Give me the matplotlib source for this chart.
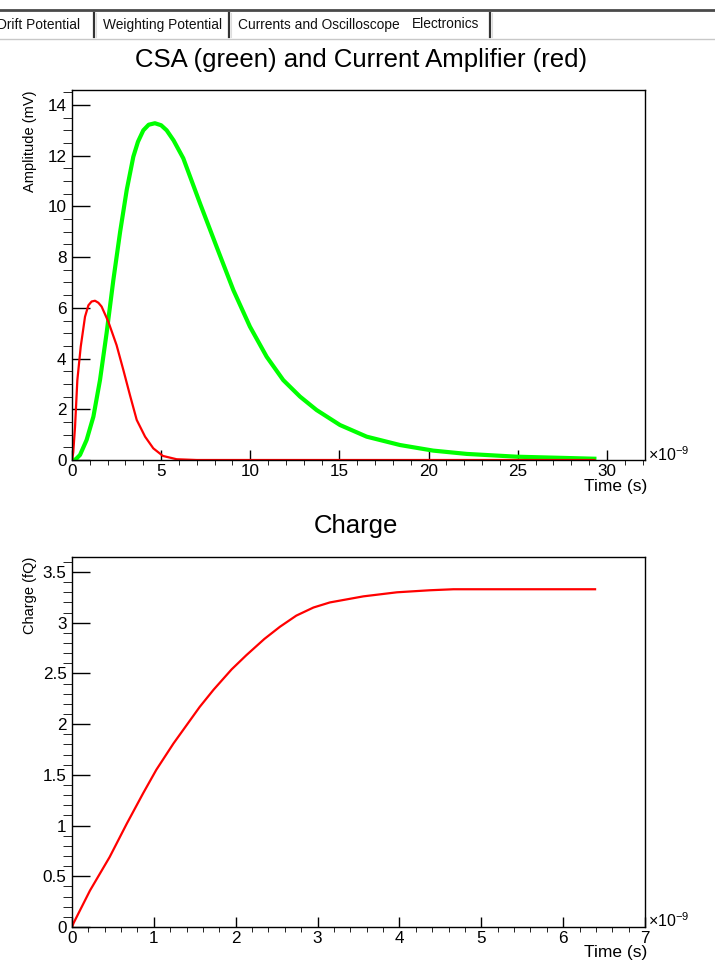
import matplotlib
matplotlib.use("Agg")
import matplotlib.pyplot as plt
from matplotlib.ticker import MultipleLocator, FormatStrFormatter

plt.rcParams['font.family'] = ['Liberation Sans', 'DejaVu Sans']
plt.rcParams['mathtext.fontset'] = 'custom'
plt.rcParams['mathtext.rm'] = 'Liberation Sans'

# CSA output (green), time in ns, amplitude in mV
csa_t = [0.0, 0.2, 0.45, 0.82, 1.2, 1.57, 1.94, 2.32, 2.7, 3.07, 3.44, 3.7, 4.0, 4.3,
         4.65, 5.0, 5.31, 5.7, 6.24, 7.18, 8.11, 9.05, 9.98, 10.92, 11.85, 12.79,
         13.72, 15.03, 16.53, 18.4, 20.26, 22.14, 24.94, 27.7, 29.3]
csa_v = [0.0, 0.02, 0.2, 0.79, 1.71, 3.15, 5.0, 7.1, 9.0, 10.65, 11.96, 12.55, 13.0, 13.22,
         13.28, 13.2, 13.0, 12.6, 11.9, 10.12, 8.41, 6.70, 5.26, 4.07, 3.15, 2.50,
         1.97, 1.38, 0.92, 0.59, 0.37, 0.24, 0.13, 0.08, 0.05]

# current amplifier output (red)
ca_t = [0.0, 0.07, 0.17, 0.3, 0.49, 0.73, 0.92, 1.1, 1.29, 1.48, 1.66, 2.04, 2.5, 2.88,
        3.25, 3.63, 4.1, 4.56, 5.1, 5.87, 7.0, 29.3]
ca_v = [0.0, 0.3, 1.3, 3.15, 4.47, 5.65, 6.1, 6.25, 6.28, 6.2, 6.05, 5.45, 4.53, 3.55,
        2.56, 1.58, 0.92, 0.46, 0.16, 0.03, 0.0, 0.0]

# collected charge, time in ns, charge in fQ
q_t = [0.0, 0.02, 0.22, 0.46, 0.67, 0.87, 1.03, 1.24, 1.56, 1.73, 1.95, 2.13, 2.35, 2.54,
       2.74, 2.95, 3.15, 3.56, 3.97, 4.37, 4.66, 6.39]
q_v = [0.0, 0.04, 0.36, 0.69, 1.02, 1.32, 1.55, 1.81, 2.17, 2.34, 2.54, 2.68, 2.84, 2.96,
       3.07, 3.15, 3.20, 3.26, 3.30, 3.32, 3.33, 3.33]

tab_names = ["Drift Potential", "Weighting Potential", "Currents and Oscilloscope", "Electronics"]

W, H = 715, 964
fig = plt.figure(figsize=(W / 100, H / 100), dpi=100)

# background layer in pixel coords for the tab bar and texts
bg = fig.add_axes([0, 0, 1, 1], zorder=-1)
bg.set_xlim(0, W)
bg.set_ylim(H, 0)
bg.axis('off')

bg.plot([0, W], [10, 10], color='#4a4a4a', lw=2)
bg.plot([0, W], [39, 39], color='#c8c8c8', lw=1)
tab_x = [-3, 103, 238, 412]
for x, name in zip(tab_x, tab_names):
    bg.text(x, 25 if name != "Electronics" else 24, name, fontsize=9.9,
            va='center', ha='left', color='#111111')
for x in [94, 229, 490]:
    bg.plot([x, x], [13, 37], color='#333333', lw=1.6)
    bg.plot([x + 2, x + 2], [13, 37], color='#dddddd', lw=0.8)

bg.text(361, 60, "CSA (green) and Current Amplifier (red)", fontsize=18.5,
        ha='center', va='center')
bg.text(356, 526, "Charge", fontsize=18.5, ha='center', va='center')


def style(ax, xmaj, xmin, ymaj, ymin):
    for s in ['top', 'right', 'left', 'bottom']:
        ax.spines[s].set_linewidth(1.0)
    ax.xaxis.set_major_locator(MultipleLocator(xmaj))
    ax.xaxis.set_minor_locator(MultipleLocator(xmin))
    ax.yaxis.set_major_locator(MultipleLocator(ymaj))
    ax.yaxis.set_minor_locator(MultipleLocator(ymin))
    ax.yaxis.set_major_formatter(FormatStrFormatter('%g'))
    ax.xaxis.set_major_formatter(FormatStrFormatter('%g'))
    ax.tick_params(axis='both', direction='in', labelsize=12.3, width=1)
    ax.tick_params(axis='y', which='major', length=13, pad=4)
    ax.tick_params(axis='y', which='minor', length=6.5)
    ax.tick_params(axis='x', which='major', length=7.2, pad=3)
    ax.tick_params(axis='x', which='minor', length=3.6)


# top pad
ax1 = fig.add_axes([72 / W, 1 - 460 / H, 573 / W, 370 / H])
ax1.plot(csa_t, csa_v, color='#00ff00', lw=3.0, solid_joinstyle='round')
ax1.plot(ca_t, ca_v, color='#ff0000', lw=1.6, solid_joinstyle='round')
ax1.set_xlim(0, 32.14)
ax1.set_ylim(0, 14.59)
style(ax1, 5, 1, 2, 0.5)

bg.text(30, 90, "Amplitude (mV)", rotation=90, fontsize=10.5, ha='center', va='top')
bg.text(647, 486, "Time (s)", fontsize=12.5, ha='right', va='center')
bg.text(648, 455, r"$\times10^{-9}$", fontsize=11.5, ha='left', va='center')

# bottom pad
ax2 = fig.add_axes([72 / W, 1 - 927 / H, 573 / W, 370 / H])
ax2.plot(q_t, q_v, color='#ff0000', lw=1.6, solid_joinstyle='round')
ax2.set_xlim(0, 7)
ax2.set_ylim(0, 3.648)
style(ax2, 1, 0.2, 0.5, 0.1)

bg.text(30, 557, "Charge (fQ)", rotation=90, fontsize=10.5, ha='center', va='top')
bg.text(647, 952, "Time (s)", fontsize=12.5, ha='right', va='center')
bg.text(648, 921, r"$\times10^{-9}$", fontsize=11.5, ha='left', va='center')

fig.savefig("out.png", dpi=100)
